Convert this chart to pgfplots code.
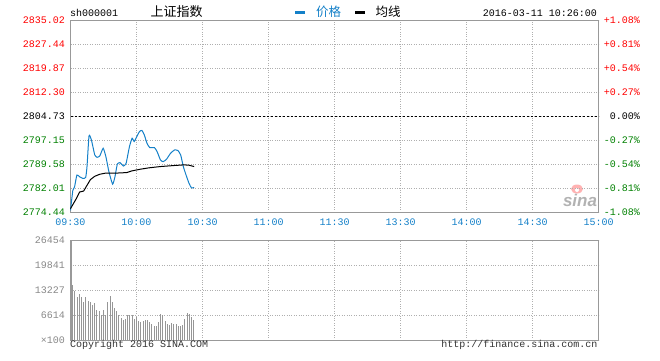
\documentclass[border=0pt]{standalone}
\usepackage{fontspec}
\setmainfont{Liberation Sans}
\setmonofont{Liberation Mono}
\newfontfamily\cjk{Noto Sans CJK SC}
\usepackage{pgfplots}
\pgfplotsset{compat=1.18}
\definecolor{sred}{RGB}{255,0,0}
\definecolor{sgreen}{RGB}{0,128,0}
\definecolor{sblue}{RGB}{20,128,200}
\definecolor{sgrid}{RGB}{175,175,175}
\definecolor{sborder}{RGB}{153,153,153}
\definecolor{svol}{RGB}{150,150,150}
\definecolor{slab}{RGB}{136,136,136}
\definecolor{dtext}{RGB}{50,50,50}
\newcommand\tf{\ttfamily\fontsize{10}{10}\selectfont}
\newcommand\cf{\cjk\fontsize{12.5}{12.5}\selectfont}
\begin{document}
\begin{tikzpicture}
\path[use as bounding box] (0pt,0pt) rectangle (660pt,360pt);
% ---------------- watermark
\fill[red!30] (577pt,171pt) ellipse (6pt and 4.5pt);
\fill[white] (577pt,170pt) circle (2pt);
\node[anchor=center, inner sep=0pt, font=\fontsize{17}{17}\selectfont\bfseries\itshape, text=black!30] at (580pt,160pt) {sina};
% ---------------- main price axis
\begin{axis}[at={(70.5pt,148pt)}, anchor=south west, scale only axis,
  width=528pt, height=191.5pt,
  xmin=0, xmax=240, ymin=2774.44, ymax=2835.02,
  xtick={0,30,...,240},
  xticklabels={09:30,10:00,10:30,11:00,11:30,13:30,14:00,14:30,15:00},
  ytick={2774.44,2782.01,2789.58,2797.15,2804.73,2812.30,2819.87,2827.44,2835.02},
  yticklabels={\textcolor{sgreen}{2774.44},\textcolor{sgreen}{2782.01},\textcolor{sgreen}{2789.58},\textcolor{sgreen}{2797.15},\textcolor{black}{2804.73},\textcolor{sred}{2812.30},\textcolor{sred}{2819.87},\textcolor{sred}{2827.44},\textcolor{sred}{2835.02}},
  scaled y ticks=false,
  grid=major, major grid style={sgrid, dotted, line width=0.8pt},
  axis line style={sborder, line width=1pt},
  major tick length=0pt,
  ticklabel style={font=\tf},
  xticklabel style={text=sblue, yshift=-3pt},
  yticklabel style={xshift=-2pt},
  clip=false]
\draw[black, line width=0.8pt, dash pattern=on 2pt off 2pt] (axis cs:0,2804.73) -- (axis cs:240,2804.73);
\addplot[sblue, line width=1pt, smooth, tension=0.3] coordinates {
(0,2774.97)(1.07,2781.34)(1.84,2782.40)(2.91,2786.12)(4.13,2785.59)(5.67,2785.06)(6.89,2785.38)(7.50,2788.77)(8.42,2798.54)(9.49,2797.27)(11.03,2792.49)(12.10,2791.75)(13.32,2792.18)(14.85,2794.61)(16.08,2791.96)(17.46,2787.18)(19.14,2783.25)(20.21,2785.59)(21.29,2789.62)(22.51,2790.04)(24.04,2788.99)(25.27,2789.83)(26.80,2795.14)(28.02,2797.80)(28.94,2796.74)(30.17,2798.33)(31.39,2799.92)(32.47,2800.24)(33.54,2798.86)(34.76,2796.20)(35.99,2794.83)(38.13,2794.83)(39.36,2793.55)(40.89,2790.90)(42.11,2790.37)(43.64,2791.12)(45.48,2793.02)(47.32,2794.08)(48.85,2793.87)(50.08,2792.49)(51.30,2788.77)(52.53,2786.12)(53.90,2783.46)(54.98,2782.08)(56.20,2782.19)};
\addplot[black, line width=1pt] coordinates {
(0,2775.50)(2.60,2778.63)(4.13,2780.76)(5.97,2781.07)(7.50,2782.88)(9.04,2784.68)(11.03,2785.74)(13.32,2786.38)(15.62,2786.70)(19.45,2786.70)(25.57,2786.91)(27.87,2787.44)(31.70,2787.97)(35.53,2788.40)(40.89,2788.82)(47.01,2789.14)(51.61,2789.35)(53.90,2789.24)(56.20,2788.82)};
\end{axis}
% ---------------- right percent labels
\begin{axis}[at={(70.5pt,148pt)}, anchor=south west, scale only axis,
  width=528pt, height=191.5pt,
  xmin=0, xmax=240, ymin=2774.44, ymax=2835.02,
  xtick=\empty, axis line style={draw=none},
  yticklabel pos=right,
  scaled y ticks=false,
  ytick={2774.44,2782.01,2789.58,2797.15,2804.73,2812.30,2819.87,2827.44,2835.02},
  yticklabels={\textcolor{sgreen}{-1.08\%},\textcolor{sgreen}{-0.81\%},\textcolor{sgreen}{-0.54\%},\textcolor{sgreen}{-0.27\%},\textcolor{black}{0.00\%},\textcolor{sred}{+0.27\%},\textcolor{sred}{+0.54\%},\textcolor{sred}{+0.81\%},\textcolor{sred}{+1.08\%}},
  major tick length=0pt,
  yticklabel style={font=\tf, anchor=east, xshift=45pt}]
\end{axis}
% ---------------- volume axis
\begin{axis}[at={(70.5pt,20pt)}, anchor=south west, scale only axis,
  width=528pt, height=99.5pt,
  xmin=0, xmax=240, ymin=0, ymax=26454,
  xtick={0,30,...,240}, xticklabels={},
  ytick={0,6614,13227,19841,26454},
  yticklabels={×100,6614,13227,19841,26454},
  scaled y ticks=false,
  grid=major, major grid style={sgrid, dotted, line width=0.8pt},
  axis line style={sborder, line width=1pt},
  major tick length=0pt,
  yticklabel style={font=\tf, text=slab, xshift=-2pt},
  clip=false]
\addplot[ycomb, svol, line width=1pt] coordinates {
(1,14640)(2,13050)(3,11550)(4,12170)(5,11550)(6,10050)(7,11550)(8,10410)(9,10050)(10,9350)
(11,9790)(12,7940)(13,7580)(14,6530)(15,7940)(16,6530)(17,10050)(18,11820)(19,10230)(20,8640)
(21,7580)(22,6530)(23,5820)(24,5380)(25,5640)(26,6530)(27,6530)(28,6530)(29,5640)(30,6000)
(31,4940)(32,4670)(33,4940)(34,5290)(35,5290)(36,4760)(37,4320)(38,3700)(39,3700)(40,4760)
(41,6880)(42,6700)(43,5120)(44,4320)(45,4060)(46,4590)(47,4320)(48,4320)(49,3700)(50,3700)
(51,4060)(52,5640)(53,7230)(54,6880)(55,6170)(56,5380)};
\draw[sborder, line width=2pt] (axis cs:0,0) -- (axis cs:0,26454);
\end{axis}
% ---------------- header
\node[anchor=base west, inner sep=0pt, font=\tf] at (70pt,343.3pt) {sh000001};
\node[anchor=base west, inner sep=0pt, font=\cjk\fontsize{13}{13}\selectfont] at (150.5pt,343.5pt) {上证指数};
\fill[sblue] (295pt,346pt) rectangle (305pt,349pt);
\node[anchor=base west, inner sep=0pt, font=\cf, text=sblue] at (316pt,343.5pt) {价格};
\fill[black] (355pt,346pt) rectangle (365pt,349pt);
\node[anchor=base west, inner sep=0pt, font=\cf] at (375.5pt,343.5pt) {均线};
\node[anchor=base east, inner sep=0pt, font=\tf] at (597pt,343.3pt) {2016-03-11 10:26:00};
% ---------------- footer
\node[anchor=base west, inner sep=0pt, font=\tf, text=dtext] at (70pt,12.5pt) {Copyright 2016 SINA.COM};
\node[anchor=base east, inner sep=0pt, font=\tf, text=dtext] at (597.5pt,12.5pt) {http://finance.sina.com.cn};
\end{tikzpicture}
\end{document}
